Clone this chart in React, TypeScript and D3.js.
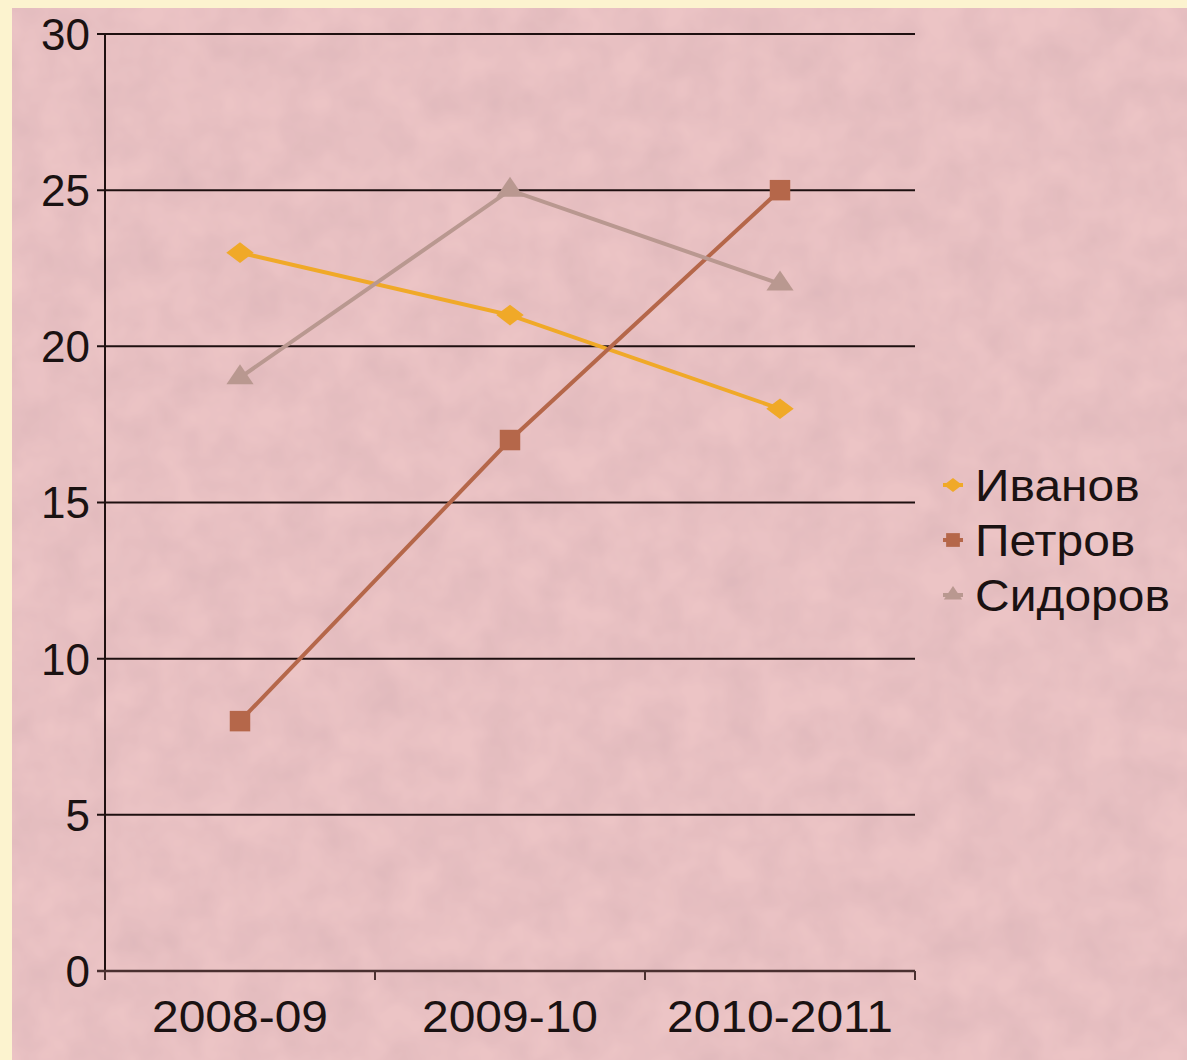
import { useMemo } from 'react';
import * as d3 from 'd3';

const seasons = ['2008-09', '2009-10', '2010-2011'];
const ivanov = [23, 21, 18];
const petrov = [8, 17, 25];
const sidorov = [19, 25, 22];
const yTicks = [0, 5, 10, 15, 20, 25, 30];

const series = [
    { name: 'Иванов', values: ivanov, color: '#f0a928', symbol: d3.symbolDiamond2, size: 480, squash: 0.75 },
    { name: 'Петров', values: petrov, color: '#b5674a', symbol: d3.symbolSquare, size: 420, squash: 1 },
    { name: 'Сидоров', values: sidorov, color: '#b99890', symbol: d3.symbolTriangle, size: 320, squash: 0.85 },
];

const width = 1187;
const height = 1060;
const marginLeft = 105;
const marginRight = 272;
const marginTop = 34;
const marginBottom = 89;

export default function App() {
    const x = useMemo(() => d3.scaleBand<string>()
        .domain(seasons)
        .range([marginLeft, width - marginRight]), []);

    const y = useMemo(() => d3.scaleLinear()
        .domain([0, 30])
        .range([height - marginBottom, marginTop]), []);

    const cx = (i: number) => (x(seasons[i]) ?? 0) + x.bandwidth() / 2;

    const line = d3.line<number>()
        .x((_, i) => cx(i))
        .y((d) => y(d));

    const bandEdges = [...seasons.map((s) => x(s) ?? 0), x.range()[1]];

    return (
        <div style={{ position: 'fixed', left: 0, top: 0, width, height }}>
            <svg width={width} height={height} style={{ display: 'block' }} fontFamily="'Liberation Sans', Arial, sans-serif">
                <defs>
                    <filter id="paper" x="0" y="0" width="100%" height="100%">
                        <feTurbulence type="fractalNoise" baseFrequency="0.025" numOctaves="3" seed="7" result="noise" />
                        <feColorMatrix in="noise" type="matrix"
                            values="0 0 0 0 0.6  0 0 0 0 0.38  0 0 0 0 0.42  0 0 0 0.55 -0.12" result="tint" />
                        <feComposite in="tint" in2="SourceGraphic" operator="atop" />
                    </filter>
                </defs>

                {/* slide frame + paper */}
                <rect width={width} height={height} fill="#fcf3cf" />
                <rect x={12} y={8} width={width - 12} height={height - 8} fill="#ecc4c5" filter="url(#paper)" />

                {/* grid */}
                {yTicks.filter((t) => t > 0).map((t) => (
                    <line key={t} x1={marginLeft - 8} x2={width - marginRight} y1={y(t)} y2={y(t)} stroke="#1e1010" strokeWidth={2} />
                ))}

                {/* axes */}
                <line x1={marginLeft} x2={marginLeft} y1={y(30)} y2={y(0)} stroke="#1e1010" strokeWidth={2} />
                <line x1={marginLeft - 8} x2={width - marginRight} y1={y(0)} y2={y(0)} stroke="#4a3030" strokeWidth={2.5} />
                {bandEdges.map((e) => (
                    <line key={e} x1={e} x2={e} y1={y(0)} y2={y(0) + 9} stroke="#4a3030" strokeWidth={2} />
                ))}

                {/* y labels */}
                {yTicks.map((t) => (
                    <text key={t} x={marginLeft - 15} y={y(t)} dy="0.36em" textAnchor="end" fontSize={44} fill="#1a1212">{t}</text>
                ))}

                {/* x labels, slightly stretched like the source */}
                {seasons.map((s, i) => (
                    <text key={s} transform={`translate(${cx(i)},${y(0) + 61}) scale(1.09,1)`} textAnchor="middle" fontSize={44} fill="#1a1212">{s}</text>
                ))}

                {/* series */}
                {series.map((s) => (
                    <g key={s.name}>
                        <path d={line(s.values) ?? ''} fill="none" stroke={s.color} strokeWidth={4} />
                        {s.values.map((v, i) => (
                            <path key={i}
                                transform={`translate(${cx(i)},${y(v)}) scale(1,${s.squash})`}
                                d={d3.symbol(s.symbol, s.size)() ?? ''}
                                fill={s.color} />
                        ))}
                    </g>
                ))}

                {/* legend */}
                {series.map((s, i) => (
                    <g key={s.name} transform={`translate(953,${485 + i * 55})`}>
                        <line x1={-10} x2={10} y1={0} y2={0} stroke={s.color} strokeWidth={4} />
                        <path transform={`scale(1,${s.squash})`} d={d3.symbol(s.symbol, s.size * 0.45)() ?? ''} fill={s.color} />
                        <text transform="translate(22,0) scale(1.09,1)" dy="0.36em" fontSize={44} fill="#1a1212">{s.name}</text>
                    </g>
                ))}
            </svg>
        </div>
    );
}
